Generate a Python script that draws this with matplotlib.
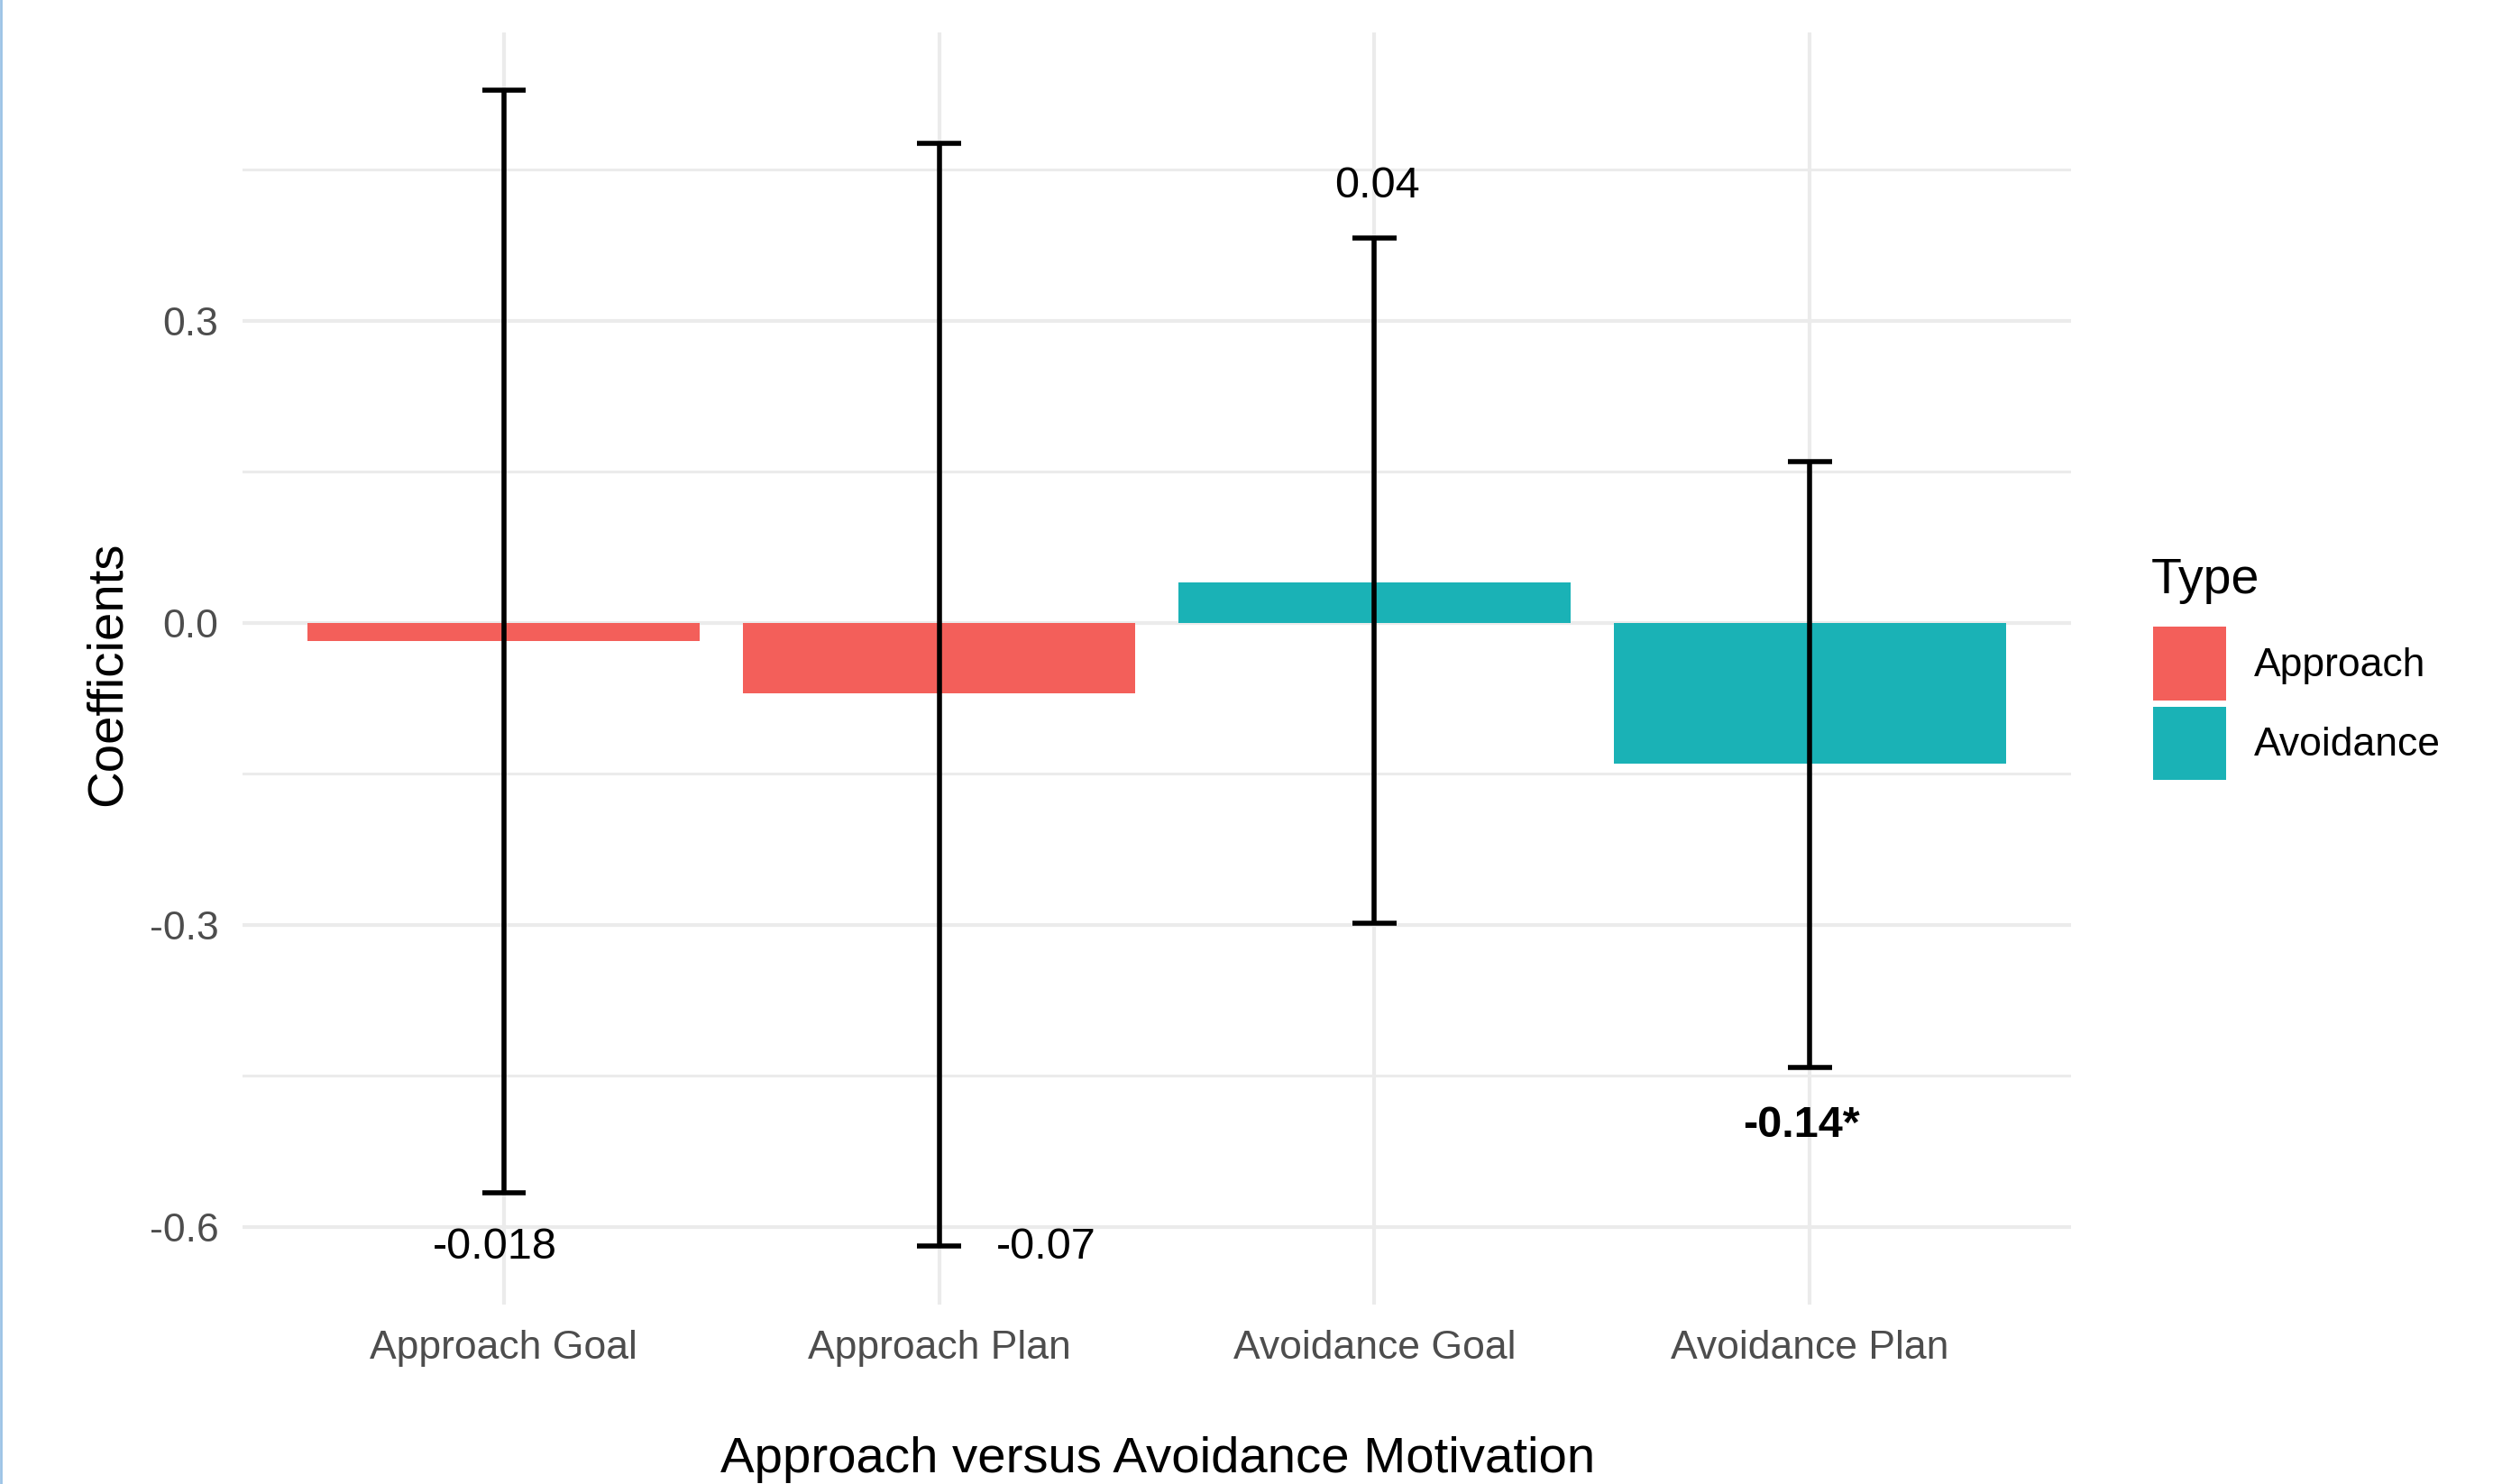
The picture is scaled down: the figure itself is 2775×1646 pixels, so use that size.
import matplotlib
matplotlib.use("Agg")
import matplotlib.pyplot as plt
from matplotlib.patches import Patch
from matplotlib.lines import Line2D
from matplotlib.ticker import FixedLocator

plt.rcParams['font.family'] = ['Liberation Sans', 'DejaVu Sans']
plt.rcParams['axes.unicode_minus'] = False

# data
groups = ["Approach Goal", "Approach Plan", "Avoidance Goal", "Avoidance Plan"]
types = ["Approach", "Approach", "Avoidance", "Avoidance"]
coefs = [-0.018, -0.07, 0.04, -0.14]
ci_low = [-0.566, -0.619, -0.299, -0.442]
ci_high = [0.529, 0.476, 0.382, 0.160]
labels = ["-0.018", "-0.07", "0.04", "-0.14*"]
label_x = [0.98, 2.246, 3.006, 3.98]
label_y = [-0.621, -0.621, 0.434, -0.500]
label_bold = [False, False, False, True]

colors = {"Approach": "#F35F5A", "Avoidance": "#1AB2B6"}

fig = plt.figure(figsize=(13.875, 8.23), dpi=200)
ax = fig.add_axes([0.0969, 0.1212, 0.7309, 0.8567])

x = list(range(1, len(groups) + 1))
ax.bar(x, coefs, width=0.9, color=[colors[t] for t in types], zorder=2)

for xi, lo, hi in zip(x, ci_low, ci_high):
    ax.vlines(xi, lo, hi, color="black", lw=2.0, zorder=3)
    ax.hlines([lo, hi], xi - 0.05, xi + 0.05, color="black", lw=2.0, zorder=3)

for lx, ly, txt, b in zip(label_x, label_y, labels, label_bold):
    ax.text(lx, ly, txt, ha="center", va="center", fontsize=17.5,
            fontweight="bold" if b else "normal", color="black", zorder=4)

ax.set_xlim(0.4, 4.6)
ax.set_ylim(-0.677, 0.586)
ax.set_xticks(x)
ax.set_xticklabels(groups)
ax.set_yticks([-0.6, -0.3, 0.0, 0.3])
ax.set_yticklabels(["-0.6", "-0.3", "0.0", "0.3"])
ax.yaxis.set_minor_locator(FixedLocator([-0.45, -0.15, 0.15, 0.45]))

ax.grid(True, which="major", color="#EBEBEB", lw=1.5, zorder=0)
ax.grid(True, which="minor", axis="y", color="#EBEBEB", lw=1.1, zorder=0)
for s in ax.spines.values():
    s.set_visible(False)
ax.tick_params(which="both", length=0)
ax.tick_params(axis="x", labelsize=16, labelcolor="#4D4D4D", pad=10.2)
ax.tick_params(axis="y", labelsize=16, labelcolor="#4D4D4D", pad=9.5)

ax.set_xlabel("Approach versus Avoidance Motivation", fontsize=20.3)
ax.xaxis.set_label_coords(0.5005, -0.122)
ax.xaxis.label.set_va("center")
ax.set_ylabel("Coefficients", fontsize=20.3)
ax.yaxis.set_label_coords(-0.0735, 0.496)
ax.yaxis.label.set_va("center")

handles = [Patch(facecolor=colors[k], edgecolor="none", label=k) for k in ["Approach", "Avoidance"]]
leg = fig.legend(handles=handles, loc="upper left",
                 bbox_to_anchor=(0.8527, 0.591), frameon=False, fontsize=16,
                 handlelength=1.82, handleheight=2.43,
                 handletextpad=0.68, labelspacing=0.16, borderpad=0.0)
fig.text(0.8598, 0.6002, "Type", fontsize=20, va="baseline", ha="left")

# thin blue edge line from the screenshot
fig.add_artist(Line2D([0.0004, 0.0004], [0, 1], color="#9CC3E6", lw=1.0))

fig.savefig("out.png", dpi=200)
